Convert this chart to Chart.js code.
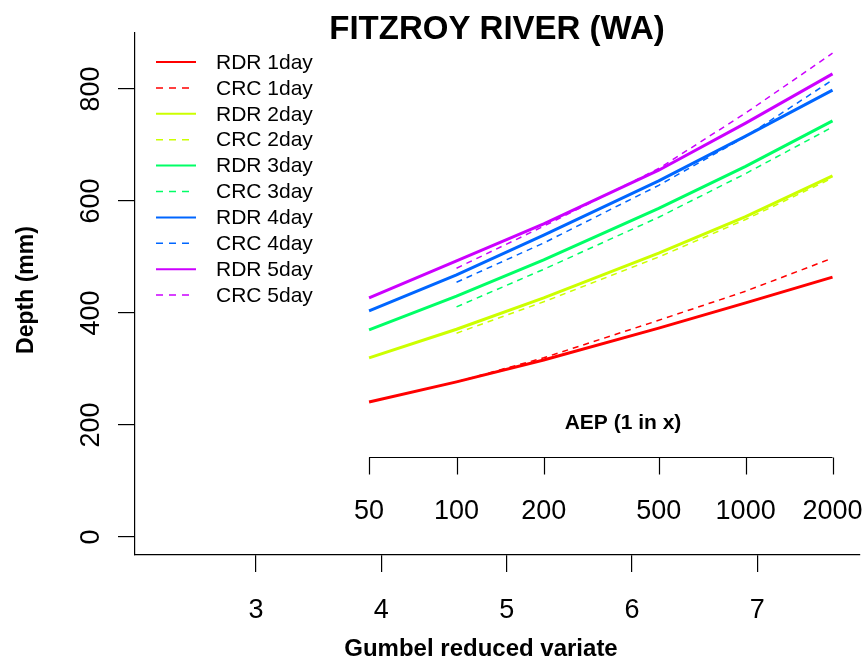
<!DOCTYPE html>
<html>
<head>
<meta charset="utf-8">
<script src="https://cdn.jsdelivr.net/npm/chart.js@4.4.1/dist/chart.umd.min.js"></script>
<style>
  html, body { margin: 0; padding: 0; background: #fff; }
  #wrap { width: 865px; height: 662px; }
</style>
</head>
<body>
<div id="wrap"><canvas id="c" width="865" height="662"></canvas></div>
<script>
// ---- data ----
const aep = [50, 100, 200, 500, 1000, 2000];          // AEP (1 in x)
const xTicks = [3, 4, 5, 6, 7];                       // Gumbel reduced variate ticks
const yTicks = [0, 200, 400, 600, 800];               // Depth ticks
const seriesNames = ["RDR 1day","CRC 1day","RDR 2day","CRC 2day","RDR 3day","CRC 3day","RDR 4day","CRC 4day","RDR 5day","CRC 5day"];
const rdr1 = [241, 277, 316, 373, 418, 464];
const crc1 = [null, 277, 320, 387, 439, 498];
const rdr2 = [320, 371, 427, 507, 572, 645];
const crc2 = [null, 364, 420, 500, 567, 641];
const rdr3 = [370, 430, 495, 587, 662, 743];
const crc3 = [null, 411, 478, 571, 649, 732];
const rdr4 = [404, 468, 539, 636, 716, 798];
const crc4 = [null, 455, 525, 628, 715, 816];
const rdr5 = [427, 493, 559, 655, 739, 827];
const crc5 = [null, 480, 555, 658, 757, 864];
const colors = ["#FF0000", "#CCFF00", "#00FF66", "#0066FF", "#CC00FF"];

const gumbel = T => -Math.log(-Math.log(1 - 1 / T));
const FONT = '"Liberation Sans", Arial, Helvetica, sans-serif';

const allSeries = [rdr1, crc1, rdr2, crc2, rdr3, crc3, rdr4, crc4, rdr5, crc5];
const datasets = allSeries.map((vals, i) => {
  const isCRC = i % 2 === 1;
  const col = colors[Math.floor(i / 2)];
  return {
    label: seriesNames[i],
    data: vals.map((v, k) => ({ x: gumbel(aep[k]), y: v })),
    borderColor: col,
    backgroundColor: col,
    borderWidth: isCRC ? 1.5 : 3,
    borderDash: isCRC ? [6, 5] : [],
    pointRadius: 0,
    tension: 0,
    spanGaps: false,
    fill: false,
    order: allSeries.length - i
  };
});

const decor = {
  id: 'decor',
  afterDraw(chart) {
    const ctx = chart.ctx;
    const xs = chart.scales.x, ys = chart.scales.y;
    ctx.save();
    ctx.fillStyle = '#000';
    ctx.strokeStyle = '#000';

    // rotated y tick labels
    ctx.font = '27px ' + FONT;
    ctx.textAlign = 'center';
    ctx.textBaseline = 'middle';
    yTicks.forEach(v => {
      const py = ys.getPixelForValue(v);
      ctx.save();
      ctx.translate(92, py);
      ctx.rotate(-Math.PI / 2);
      ctx.fillText(String(v), 0, 0);
      ctx.restore();
    });

    // AEP secondary axis
    const ay = 457.5;
    const px0 = xs.getPixelForValue(gumbel(aep[0]));
    const px1 = xs.getPixelForValue(gumbel(aep[aep.length - 1]));
    ctx.lineWidth = 1.2;
    ctx.beginPath();
    ctx.moveTo(px0, ay);
    ctx.lineTo(px1, ay);
    aep.forEach(T => {
      const px = Math.round(xs.getPixelForValue(gumbel(T))) + 0.5;
      ctx.moveTo(px, ay);
      ctx.lineTo(px, ay + 17);
    });
    ctx.stroke();
    ctx.font = '27px ' + FONT;
    aep.forEach(T => {
      ctx.fillText(String(T), xs.getPixelForValue(gumbel(T)), 512);
    });
    ctx.font = 'bold 21px ' + FONT;
    ctx.fillText('AEP (1 in x)', 623, 423);

    // title
    ctx.font = 'bold 33px ' + FONT;
    ctx.fillText('FITZROY RIVER (WA)', 497, 30);

    // axis titles
    ctx.font = 'bold 24px ' + FONT;
    ctx.fillText('Gumbel reduced variate', 481, 649);
    ctx.save();
    ctx.translate(27, 290);
    ctx.rotate(-Math.PI / 2);
    ctx.font = 'bold 23px ' + FONT;
    ctx.fillText('Depth (mm)', 0, 0);
    ctx.restore();

    // legend
    ctx.textAlign = 'left';
    ctx.font = '21px ' + FONT;
    chart.data.datasets.forEach((ds, i) => {
      const y = 62 + i * 25.9;
      ctx.save();
      ctx.strokeStyle = ds.borderColor;
      const dashed = ds.borderDash && ds.borderDash.length;
      ctx.lineWidth = dashed ? 1.5 : 2;
      ctx.setLineDash(dashed ? [7, 6] : []);
      ctx.beginPath();
      ctx.moveTo(156, y);
      ctx.lineTo(dashed ? 190 : 196, y);
      ctx.stroke();
      ctx.restore();
      ctx.fillText(ds.label, 216, y + 1);
    });
    ctx.restore();
  }
};

new Chart(document.getElementById('c'), {
  type: 'line',
  data: { datasets },
  options: {
    responsive: false,
    animation: false,
    events: [],
    layout: { padding: { top: 33, right: 5, left: 0, bottom: 0 } },
    plugins: { legend: { display: false }, title: { display: false }, tooltip: { enabled: false } },
    scales: {
      x: {
        type: 'linear',
        min: 2.034,
        max: 7.82,
        afterBuildTicks: s => { s.ticks = xTicks.map(v => ({ value: v })); },
        afterFit: s => { s.height = 107; },
        grid: { display: true, drawOnChartArea: false, drawTicks: true, tickLength: 17, color: '#000', lineWidth: 1.2 },
        border: { display: true, color: '#000', width: 1.2 },
        ticks: { color: '#000', font: { size: 27, family: FONT }, padding: 22, maxRotation: 0, autoSkip: false }
      },
      y: {
        type: 'linear',
        min: -32.1,
        max: 900,
        afterBuildTicks: s => { s.ticks = yTicks.map(v => ({ value: v })); },
        afterFit: s => { s.width = 135; },
        grid: { display: true, drawOnChartArea: false, drawTicks: true, tickLength: 17, color: '#000', lineWidth: 1.2 },
        border: { display: true, color: '#000', width: 1.2 },
        ticks: { display: false }
      }
    }
  },
  plugins: [decor]
});
</script>
</body>
</html>
